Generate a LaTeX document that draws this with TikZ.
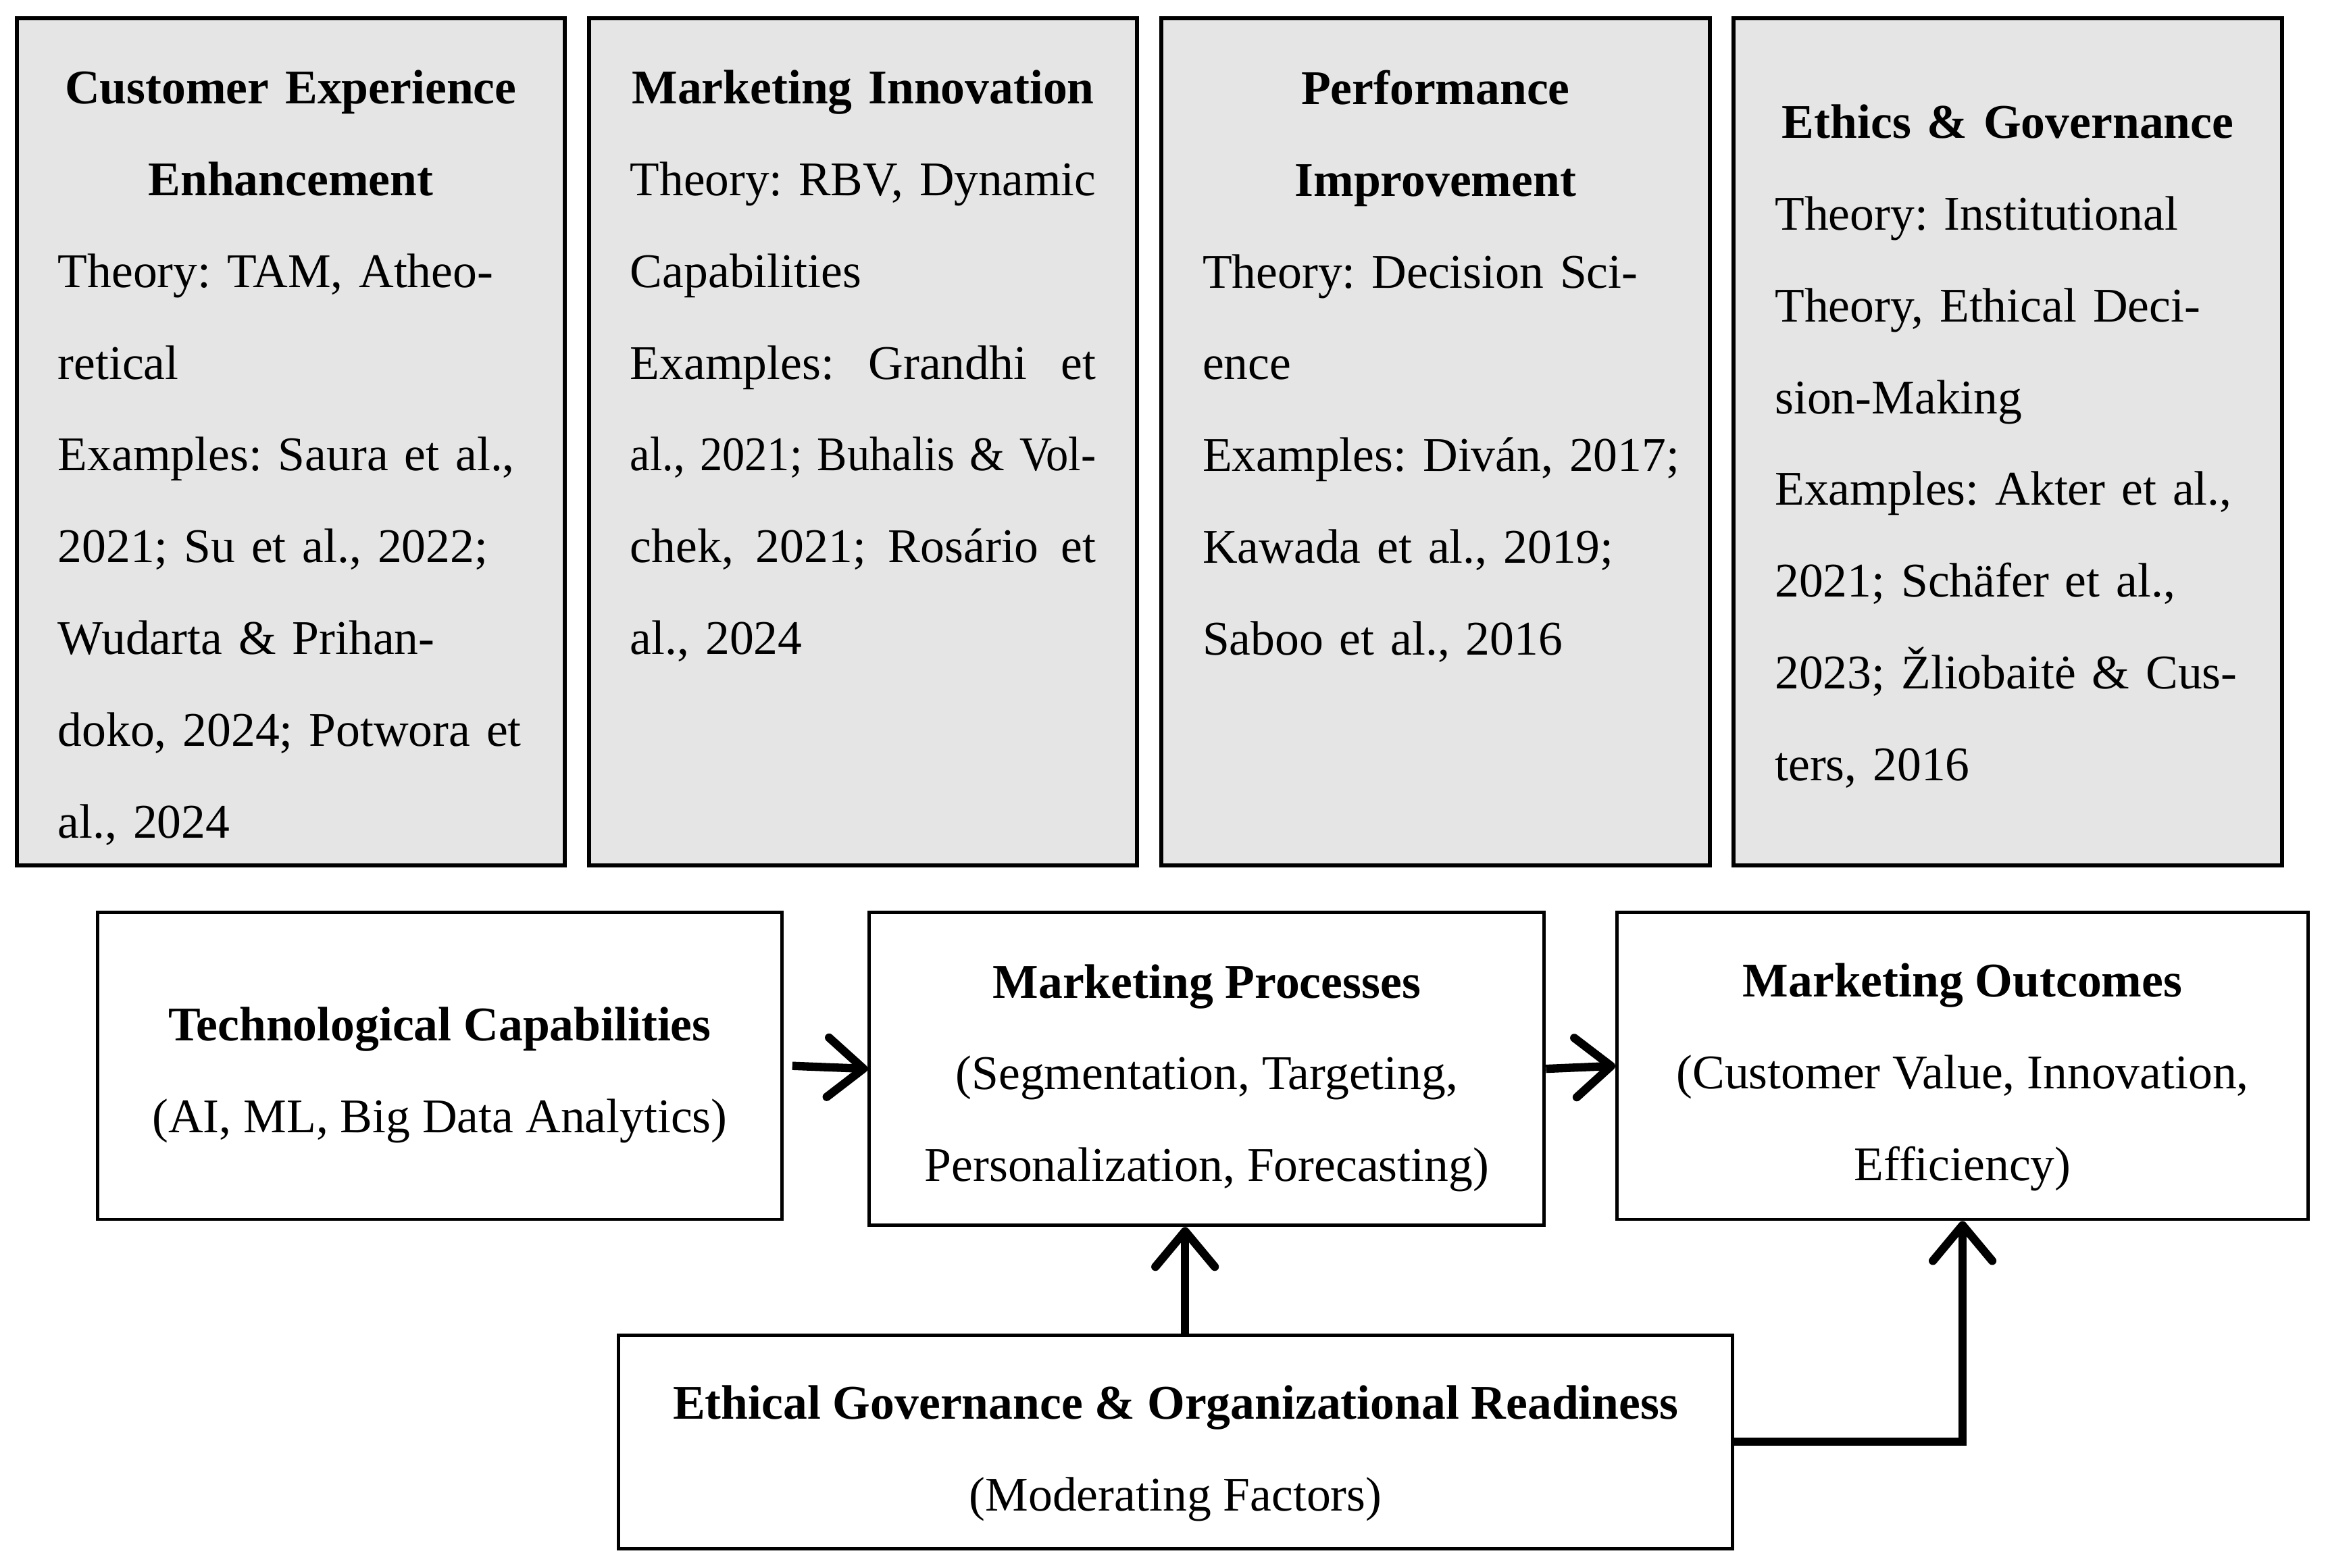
\documentclass[tikz,border=0pt]{standalone}
\usepackage{fontspec}
\setmainfont{Liberation Serif}
\usepackage{graphicx}
\usepackage{tikz}
\usetikzlibrary{positioning, calc, arrows.meta}

\tikzset{
    topbox/.style={draw, line width=1pt, fill=black!10, minimum width=4.62cm, minimum height=7.14cm, inner sep=0pt},
    toptext/.style={text width=3.925cm, inner sep=0pt, anchor=north, font=\fontsize{11.6}{22}\selectfont\frenchspacing},
    mainbox/.style={draw, line width=0.8pt, align=center, inner sep=0pt, font=\fontsize{11.6}{22}\selectfont\frenchspacing},
    flow/.style={line width=2pt, -{Straight Barb[length=3mm,width=5mm,round]}}
}

\begin{document}
\begin{tikzpicture}
            \useasboundingbox (0, 0) rectangle (19.6, 13.2125);

            % Themes
            \node[topbox] (cee) at (2.45, 9.49) {};
            \node[topbox] (mi) at (7.273, 9.49) {};
            \node[topbox] (pi) at (12.096, 9.49) {};
            \node[topbox] (eg) at (16.919, 9.49) {};

            \node[toptext] (cee-txt) at ([yshift=-0.45cm]cee.north) {{\centering\bfseries \makebox[3.925cm]{Customer Experience}\\ Enhancement\par}\raggedright
                \mbox{Theory: TAM, Atheo-}\\ retical\\ \mbox{Examples: Saura et al.,}\\ \mbox{2021; Su et al., 2022;}\\ \mbox{Wudarta \& Prihan-}\\ \mbox{doko, 2024; Potwora et}\\ al., 2024};
            \node[toptext] (mi-txt) at ([yshift=-0.45cm]mi.north) {{\centering\bfseries \makebox[3.925cm]{Marketing Innovation}\par}\raggedright
                \resizebox{3.925cm}{\height}{Theory: RBV, Dynamic}\\ Capabilities\\ \makebox[3.925cm][l]{Examples:\hfill Grandhi\hfill et}\\ \resizebox{3.925cm}{\height}{al., 2021; Buhalis \& Vol-}\\ \makebox[3.925cm][l]{chek,\hfill 2021;\hfill Rosário\hfill et}\\ al., 2024};
            \node[toptext] (pi-txt) at ([yshift=-0.45cm]pi.north) {{\centering\bfseries Performance\\ Improvement\par}\raggedright
                \mbox{Theory: Decision Sci-}\\ ence\\ \mbox{Examples: Diván, 2017;}\\ \mbox{Kawada et al., 2019;}\\ \mbox{Saboo et al., 2016}};
            \node[toptext] (eg-txt) at ([yshift=-0.74cm]eg.north) {{\centering\bfseries \makebox[3.925cm]{Ethics \& Governance}\par}\raggedright
                \mbox{Theory: Institutional}\\ \mbox{Theory, Ethical Deci-}\\ sion-Making\\ \mbox{Examples: Akter et al.,}\\ \mbox{2021; Schäfer et al.,}\\ \mbox{2023; Žliobaitė \& Cus-}\\ \mbox{ters, 2016}};

            % Framework
            \node[mainbox, minimum width=5.7625cm, minimum height=2.5875cm] (tech) at (3.706, 4.231) {\rule{0pt}{12.5pt}\textbf{Technological Capabilities}\\ (AI, ML, Big Data Analytics)};
            \node[mainbox, minimum width=5.6875cm, minimum height=2.6375cm] (proc) at (10.169, 4.206) {\rule{0pt}{12.5pt}\textbf{Marketing Processes}\\ (Segmentation, Targeting,\\ Personalization, Forecasting)};
            \node[mainbox, minimum width=5.825cm, minimum height=2.5875cm] (out) at (16.5375, 4.231) {\rule{0pt}{13.5pt}\textbf{Marketing Outcomes}\\ (Customer Value, Innovation,\\ Efficiency)};
            \node[mainbox, minimum width=9.3875cm, minimum height=1.8cm] (eth) at (9.906, 1.0625) {\rule{0pt}{13.5pt}\textbf{Ethical Governance \& Organizational Readiness}\\ (Moderating Factors)};

            % Arrows
            \draw[flow] ([xshift=0.075cm]tech.east) -- (proc.west);
            \draw[flow] (proc.east) -- (out.west);
            \draw[flow] ([xshift=0.08cm]eth.north) -- ([xshift=0.08cm]eth.north |- proc.south);
            \draw[flow] (eth.east) -| (out.south);
        \end{tikzpicture}
\end{document}
